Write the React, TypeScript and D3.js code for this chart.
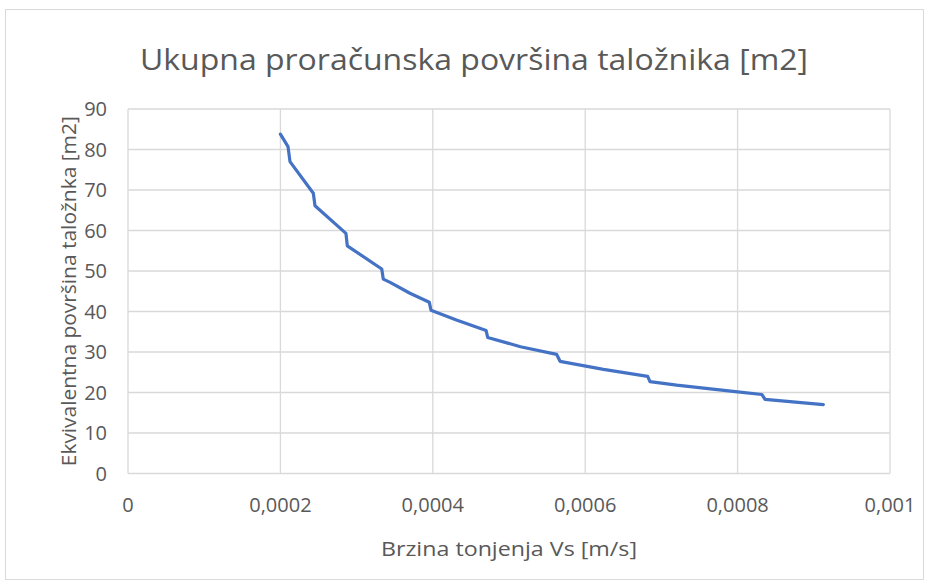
import React from "react";
import * as d3 from "d3";

const vsValues = [
  0.0002, 0.00021, 0.0002126, 0.0002432, 0.0002454, 0.000286, 0.0002878,
  0.000333, 0.000335, 0.000344, 0.00037, 0.0003954, 0.0003976, 0.000431,
  0.00047, 0.000472, 0.000515, 0.0005626, 0.000567, 0.000624, 0.000682,
  0.000685, 0.00072, 0.000797, 0.000832, 0.000836, 0.0009125,
];
const areaValues = [
  83.8, 80.7, 77.0, 69.2, 66.1, 59.3, 56.2,
  50.5, 48.0, 47.2, 44.5, 42.3, 40.3, 37.9,
  35.3, 33.6, 31.3, 29.4, 27.7, 25.7, 24.0,
  22.7, 21.8, 20.2, 19.5, 18.3, 17.0,
];
const xTicks = [0, 0.0002, 0.0004, 0.0006, 0.0008, 0.001];
const xTickLabels = ["0", "0,0002", "0,0004", "0,0006", "0,0008", "0,001"];
const yTicks = [0, 10, 20, 30, 40, 50, 60, 70, 80, 90];

const title = "Ukupna proračunska površina taložnika [m2]";
const xTitle = "Brzina tonjenja Vs [m/s]";
const yTitle = "Ekvivalentna površina taložnka [m2]";

const W = 929;
const H = 584;
const left = 128;
const right = 890;
const top = 109;
const bottom = 473.5;
const font = "'Open Sans', 'Noto Sans', sans-serif";
const textColor = "#595959";
const gridColor = "#D9D9D9";

export default function App() {
  const x = d3.scaleLinear().domain([0, 0.001]).range([left, right]);
  const y = d3.scaleLinear().domain([0, 90]).range([bottom, top]);
  const pts = vsValues.map((v, i) => [v, areaValues[i]] as [number, number]);
  const line = d3
    .line<[number, number]>()
    .x((d) => x(d[0]))
    .y((d) => y(d[1]));

  return (
    <div style={{ position: "absolute", left: 0, top: 0 }}>
      <svg width={W} height={H} style={{ display: "block" }}>
        <rect x={0} y={0} width={W} height={H} fill="#fff" />
        <rect x={5.5} y={9.5} width={918} height={570} fill="#fff" stroke={gridColor} strokeWidth={1} />
        <text
          x={474}
          y={70}
          textAnchor="middle"
          fontFamily={font}
          fontSize={30}
          fill={textColor}
          textLength={668}
          lengthAdjust="spacingAndGlyphs"
        >
          {title}
        </text>
        {yTicks.map((t) => (
          <line key={"gy" + t} x1={left} x2={right} y1={y(t)} y2={y(t)} stroke={gridColor} strokeWidth={1.3} />
        ))}
        {xTicks.map((t) => (
          <line key={"gx" + t} x1={x(t)} x2={x(t)} y1={top} y2={bottom} stroke={gridColor} strokeWidth={1.3} />
        ))}
        {yTicks.map((t) => (
          <text
            key={"ty" + t}
            x={107}
            y={y(t)}
            dy="0.35em"
            textAnchor="end"
            fontFamily={font}
            fontSize={20}
            fill={textColor}
          >
            {String(t)}
          </text>
        ))}
        {xTicks.map((t, i) => (
          <text
            key={"tx" + t}
            x={x(t)}
            y={512}
            textAnchor="middle"
            fontFamily={font}
            fontSize={20}
            fill={textColor}
          >
            {xTickLabels[i]}
          </text>
        ))}
        <text
          x={509}
          y={556}
          textAnchor="middle"
          fontFamily={font}
          fontSize={20}
          fill={textColor}
          textLength={256}
          lengthAdjust="spacingAndGlyphs"
        >
          {xTitle}
        </text>
        <text
          transform={`translate(76, ${(top + bottom) / 2}) rotate(-90)`}
          textAnchor="middle"
          fontFamily={font}
          fontSize={20}
          fill={textColor}
          textLength={350}
          lengthAdjust="spacingAndGlyphs"
        >
          {yTitle}
        </text>
        <path
          d={line(pts) || ""}
          fill="none"
          stroke="#4472C4"
          strokeWidth={3.2}
          strokeLinejoin="round"
          strokeLinecap="round"
        />
      </svg>
    </div>
  );
}
